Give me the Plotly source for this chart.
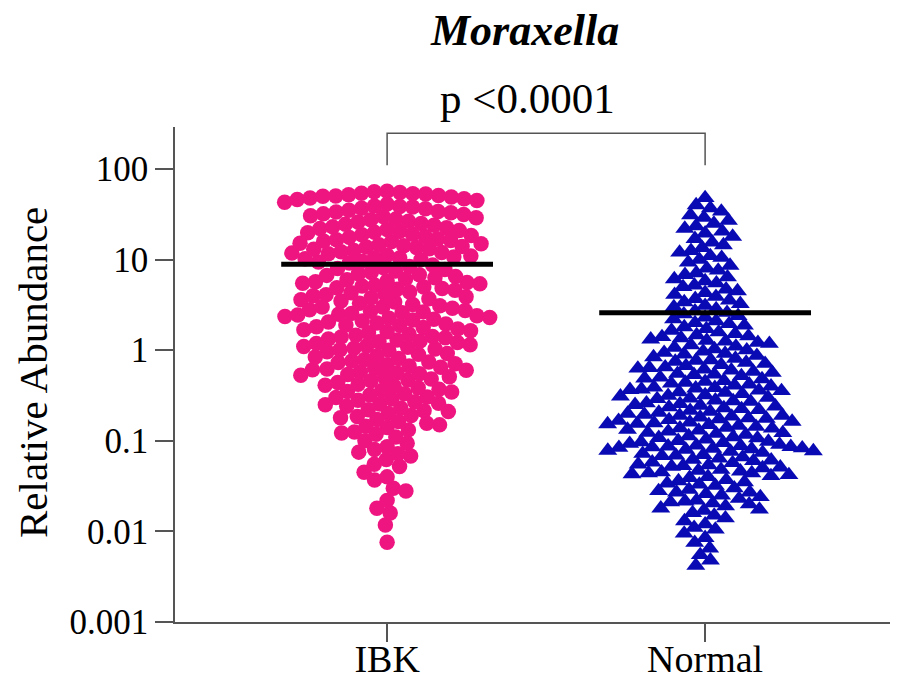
import math
import plotly.graph_objects as go

# ---------------- data ----------------
groups = ["IBK", "Normal"]

ibk_values = [
    57, 56, 55, 54, 53.5, 53, 52, 51, 50.5, 50, 49, 48, 47, 46, 45,
    43, 41, 39, 38.5, 38, 37, 36.5, 35, 34, 33.5, 33, 32, 31.5, 30.5, 30, 29, 28, 27.5,
    26.5, 26, 25, 24.5, 24, 23, 22.5, 22, 21.5, 21, 20.5, 20, 19.8,
    19, 18.8, 18.5, 18, 17.6, 17, 16.6, 16.3, 16, 15.8, 15.2, 15, 14.6, 14.2, 14,
    13.8, 13.6, 13.2, 13, 12.6, 12.2, 12, 11.8, 11.6, 11.2, 11, 10.7, 10.5, 10.4, 10.2, 10,
    9.6, 9.4, 9.2, 8.7, 8.4, 8.2, 8, 7.8, 7.5, 7.2, 7, 6.8, 6.7, 6.5, 6.3, 6.1, 6,
    5.8, 5.7, 5.6, 5.5, 5.4, 5.2, 5.1, 5,
    4.9, 4.8, 4.7, 4.6, 4.4, 4.3, 4.2, 4.1, 4, 3.9, 3.8, 3.7, 3.6, 3.5, 3.4, 3.3, 3.2,
    3.1, 3, 3, 2.9, 2.8, 2.75, 2.7, 2.65, 2.6, 2.55, 2.5, 2.45, 2.4, 2.35, 2.3, 2.25,
    2.2, 2.15, 2.1, 2.05, 2,
    1.95, 1.9, 1.88, 1.82, 1.78, 1.72, 1.68, 1.64, 1.6, 1.56, 1.5, 1.46, 1.42, 1.4, 1.37,
    1.33, 1.3, 1.26, 1.24, 1.22, 1.19, 1.15, 1.12, 1.1, 1.08, 1.05, 1.03, 1.01, 1.0,
    0.96, 0.92, 0.9, 0.87, 0.84, 0.81, 0.79, 0.76, 0.74, 0.73, 0.71, 0.69, 0.67,
    0.65, 0.63, 0.62, 0.61, 0.6, 0.58, 0.56, 0.55, 0.54, 0.53, 0.51, 0.5,
    0.48, 0.47, 0.46, 0.44, 0.42, 0.41, 0.4, 0.385, 0.37, 0.36, 0.35, 0.345, 0.33, 0.32,
    0.305, 0.3, 0.29, 0.28, 0.27, 0.26, 0.255, 0.25, 0.24, 0.23, 0.22, 0.215, 0.21, 0.2,
    0.19, 0.185, 0.18, 0.172, 0.163, 0.156, 0.15, 0.145, 0.14, 0.132, 0.125, 0.122,
    0.118, 0.11, 0.1,
    0.094, 0.086, 0.08, 0.075, 0.072, 0.068, 0.062, 0.055, 0.052,
    0.045, 0.04, 0.037, 0.03, 0.028, 0.022,
    0.018, 0.016, 0.0118, 0.0076,
]

normal_values = [
    48, 40, 37, 34, 31,
    29, 27, 25, 23.5, 22, 20.5, 19.5, 18, 17, 15.5,
    14.5, 13.5, 12.5, 12, 11, 10.5, 10, 9.3, 8.6, 8, 7.6, 7.1,
    6.8, 6.4, 6.1, 5.8, 5.5, 5.2, 5, 4.7, 4.5, 4.3, 4.1, 3.9, 3.7, 3.55,
    3.4, 3.25, 3.1, 3, 2.85, 2.7, 2.6, 2.5, 2.4, 2.3, 2.2, 2.1, 2, 1.95,
    1.88, 1.8, 1.72, 1.65, 1.58, 1.52,
    1.47, 1.43, 1.4, 1.36, 1.32, 1.28, 1.25, 1.21, 1.18, 1.14, 1.1, 1.07,
    1.03, 1.0, 0.97, 0.94, 0.92, 0.9, 0.87, 0.84, 0.81, 0.78, 0.77, 0.75, 0.73, 0.71,
    0.69, 0.67, 0.65, 0.64, 0.63, 0.615, 0.6, 0.58, 0.565, 0.55, 0.54, 0.535, 0.52, 0.5,
    0.49, 0.48, 0.46, 0.45, 0.44, 0.43, 0.42, 0.41, 0.4, 0.39, 0.385, 0.38,
    0.37, 0.365, 0.36, 0.355,
    0.345, 0.34, 0.33, 0.32, 0.315, 0.31, 0.3, 0.295, 0.29, 0.28, 0.275,
    0.27, 0.26, 0.255, 0.25, 0.245, 0.24, 0.235, 0.23, 0.225, 0.22, 0.215,
    0.21, 0.205, 0.2, 0.195, 0.19, 0.19, 0.186, 0.182, 0.178, 0.176, 0.174, 0.17,
    0.167, 0.163, 0.16, 0.157, 0.155, 0.153, 0.15, 0.147, 0.143, 0.14, 0.138, 0.137,
    0.133, 0.13, 0.127, 0.123, 0.122, 0.12, 0.117, 0.113, 0.11, 0.108, 0.107, 0.104,
    0.1, 0.098, 0.097, 0.095, 0.093, 0.091, 0.089, 0.088, 0.087, 0.086, 0.085, 0.084,
    0.083, 0.082, 0.081, 0.08,
    0.078, 0.077, 0.076, 0.074, 0.072, 0.07, 0.069, 0.068, 0.066, 0.064, 0.062, 0.061, 0.06,
    0.058, 0.057, 0.055, 0.054, 0.053, 0.052, 0.051, 0.05, 0.048, 0.047, 0.046,
    0.045, 0.044, 0.044, 0.043, 0.042, 0.041, 0.04,
    0.039, 0.037, 0.036, 0.035, 0.034, 0.033, 0.032, 0.03, 0.029, 0.028, 0.027, 0.027,
    0.026, 0.025, 0.024, 0.023, 0.022, 0.0215, 0.021, 0.0205, 0.02,
    0.019, 0.018, 0.0175, 0.017, 0.016, 0.015, 0.014, 0.013, 0.012, 0.011, 0.0105,
    0.0095, 0.0085, 0.0075, 0.0065, 0.0055,
    0.0048, 0.0042,
]

group_means = [8.9, 2.6]
p_label = "p <0.0001"
title_text = "Moraxella"
y_title = "Relative Abundance"
y_tickvals = [0.001, 0.01, 0.1, 1, 10, 100]
y_ticktext = ["0.001", "0.01", "0.1", "1", "10", "100"]

# ---------------- layout geometry ----------------
W, H = 906, 680
ML, MR, MT, MB = 175, 16, 127, 58
PW, PH = W - ML - MR, H - MT - MB
YLOG = [-3, 2.464]
XR = [-0.667, 1.5814]
px_per_x = PW / (XR[1] - XR[0])
px_per_dec = PH / (YLOG[1] - YLOG[0])

PINK = "#EF1581"
BLUE = "#0A0AB4"
AXIS = "#555555"
FONT = "Liberation Serif"


def swarm(values, center, dia):
    """Beeswarm offsets computed in pixel space, returned in data x units."""
    ys = [math.log10(v) * px_per_dec for v in values]
    order = sorted(range(len(values)), key=lambda i: -ys[i])
    placed = []
    xs = [0.0] * len(values)
    for i in order:
        y = ys[i]
        near = [(px, py) for px, py in placed if abs(py - y) < dia]
        cands = [0.0]
        for px, py in near:
            dx = math.sqrt(max(dia * dia - (py - y) ** 2, 0))
            cands += [px + dx, px - dx]
        cands.sort(key=lambda c: (abs(c), c))
        chosen = 0.0
        for c in cands:
            if all((c - px) ** 2 + (y - py) ** 2 >= dia * dia - 1e-6 for px, py in near):
                chosen = c
                break
        xs[i] = chosen
        placed.append((chosen, y))
    return [center + x / px_per_x for x in xs]


ibk_x = swarm(ibk_values, 0, 12.9)
normal_x = swarm(normal_values, 1, 11.5)

fig = go.Figure()
fig.add_trace(go.Scatter(
    x=ibk_x, y=ibk_values, mode="markers",
    marker=dict(symbol="circle", size=15.5, color=PINK, line=dict(width=0)),
    showlegend=False, hoverinfo="y"))
fig.add_trace(go.Scatter(
    x=normal_x, y=normal_values, mode="markers",
    marker=dict(symbol="triangle-up", size=16.5, color=BLUE, line=dict(width=0)),
    showlegend=False, hoverinfo="y"))

for gi, m in enumerate(group_means):
    fig.add_trace(go.Scatter(
        x=[gi - 0.333, gi + 0.333], y=[m, m], mode="lines",
        line=dict(color="black", width=5), showlegend=False, hoverinfo="skip"))

# significance bracket
fig.add_trace(go.Scatter(
    x=[0, 0, 1, 1], y=[110, 249, 249, 110], mode="lines",
    line=dict(color=AXIS, width=1.5), showlegend=False, hoverinfo="skip"))

fig.update_layout(
    width=W, height=H,
    margin=dict(l=ML, r=MR, t=MT, b=MB),
    paper_bgcolor="white", plot_bgcolor="white",
    font=dict(family=FONT, color="black"),
    xaxis=dict(range=XR, tickvals=[0, 1], ticktext=groups, showgrid=False,
               zeroline=False, showline=True, linecolor=AXIS, linewidth=1.5,
               ticks="outside", ticklen=18, tickwidth=1.5, tickcolor=AXIS,
               automargin=False, ticklabelstandoff=-15,
               tickfont=dict(size=38, family=FONT, color="black")),
    yaxis=dict(type="log", range=YLOG, tickvals=y_tickvals, ticktext=y_ticktext,
               showgrid=False, zeroline=False, showline=True, linecolor=AXIS,
               linewidth=1.5, ticks="outside", ticklen=18, tickwidth=1.5,
               automargin=False,
               tickcolor=AXIS, tickfont=dict(size=35, family=FONT, color="black")),
    annotations=[
        dict(text="<b><i>" + title_text + "</i></b>", xref="paper", yref="paper",
             x=(524 - ML) / PW, y=(H - MB - 30) / PH, xanchor="center", yanchor="middle",
             showarrow=False, font=dict(size=44, family=FONT, color="black")),
        dict(text=p_label, xref="paper", yref="paper",
             x=(527 - ML) / PW, y=(H - MB - 98) / PH, xanchor="center", yanchor="middle",
             showarrow=False, font=dict(size=43, family=FONT, color="black")),
        dict(text=y_title, xref="paper", yref="paper", textangle=-90,
             x=(33 - ML) / PW, y=(H - MB - 373) / PH, xanchor="center", yanchor="middle",
             showarrow=False, font=dict(size=41, family=FONT, color="black")),
    ],
)

fig.write_html("out.html", config={"displayModeBar": False},
               post_script="document.body.style.margin='0px';")
